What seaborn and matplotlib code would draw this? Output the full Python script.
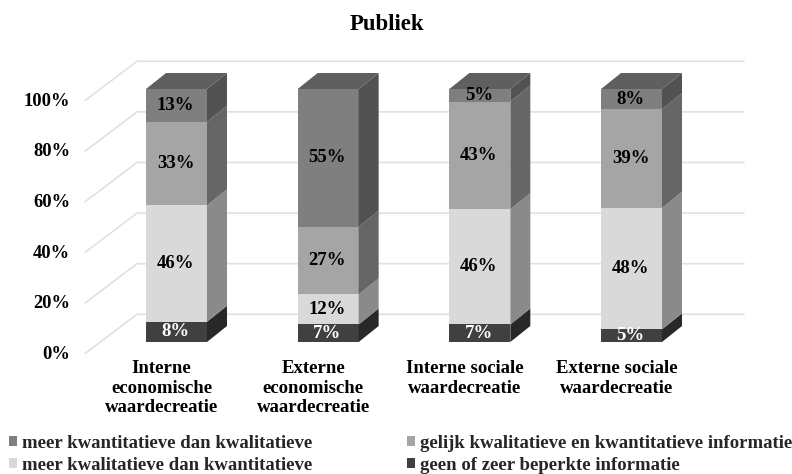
import matplotlib
matplotlib.use("Agg")
import matplotlib.pyplot as plt
from matplotlib.patches import Patch, Polygon
import numpy as np
import seaborn as sns

categories = ["Interne\neconomische\nwaardecreatie", "Externe\neconomische\nwaardecreatie",
              "Interne sociale\nwaardecreatie", "Externe sociale\nwaardecreatie"]
series_names = ["geen of zeer beperkte informatie", "meer kwalitatieve dan kwantitatieve",
                "gelijk kwalitatieve en kwantitatieve informatie", "meer kwantitatieve dan kwalitatieve"]
none_info = [8, 7, 7, 5]
more_qual = [46, 12, 46, 48]
equal_info = [33, 27, 43, 39]
more_quant = [13, 55, 5, 8]
y_ticks = [0, 20, 40, 60, 80, 100]

front_colors = ["#404040", "#d9d9d9", "#a5a5a5", "#7f7f7f"]
side_colors = ["#282828", "#8a8a8a", "#666666", "#525252"]
top_color = "#5f5f5f"
label_colors = ["white", "black", "black", "black"]

sns.set_theme(style="white")
plt.rcParams["font.family"] = ["Liberation Serif", "DejaVu Serif"]
plt.rcParams["font.weight"] = "bold"

W, H = 792, 474
fig = plt.figure(figsize=(W / 100, H / 100), dpi=100)
ax = fig.add_axes([0, 0, 1, 1])

# Axis scale: one category step and one percent in pixels
PX_X, PX_Y, X0, Y0 = 151.67, 2.53, 176.5, 342.0

values = np.array([none_info, more_qual, equal_info, more_quant], dtype=float)
shares = values / values.sum(axis=0) * 100
tops = shares.cumsum(axis=0)
bottoms = tops - shares

BAR_W = 0.402
DEPTH_X, DEPTH_Y = 20 / PX_X, 16 / PX_Y

# Stacked fronts: tallest cumulative bar first, so lower segments overlay it
for k in range(3, -1, -1):
    sns.barplot(x=categories, y=tops[k], color=front_colors[k], saturation=1,
                width=BAR_W, ax=ax, zorder=3, linewidth=0)

ax.set_xlim(-X0 / PX_X, (W - X0) / PX_X)
ax.set_ylim(-(H - Y0) / PX_Y, Y0 / PX_Y)
ax.set_axis_off()

# Extruded side and top faces of every bar
for i in range(len(categories)):
    xr = i + BAR_W / 2
    xl = i - BAR_W / 2
    for k in range(4):
        b, t = bottoms[k, i], tops[k, i]
        ax.add_patch(Polygon([(xr, b), (xr + DEPTH_X, b + DEPTH_Y), (xr + DEPTH_X, t + DEPTH_Y), (xr, t)],
                             closed=True, fc=side_colors[k], ec="none", zorder=3))
        ax.text(i - 1 / PX_X, (b + t) / 2, f"{int(values[k, i])}%", ha="center", va="center",
                fontsize=13.5, color=label_colors[k], zorder=5)
    ax.add_patch(Polygon([(xl, 100), (xl + DEPTH_X, 100 + DEPTH_Y), (xr + DEPTH_X, 100 + DEPTH_Y), (xr, 100)],
                         closed=True, fc=top_color, ec="none", zorder=3))

# Wall and back gridlines of the box
WALL_FRONT_X, WALL_BACK_X, GRID_END_X = (85 - X0) / PX_X, (137 - X0) / PX_X, (744 - X0) / PX_X
FRONT_OFFSET, BACK_OFFSET = -4.6, 10.95
for v in y_ticks:
    ax.plot([WALL_FRONT_X, WALL_BACK_X, GRID_END_X],
            [v + FRONT_OFFSET, v + BACK_OFFSET, v + BACK_OFFSET],
            color="#e1e1e1", lw=1.2, zorder=1, solid_joinstyle="miter")
    ax.text((70 - X0) / PX_X, v + FRONT_OFFSET - 0.3, f"{v}%", ha="right", va="center",
            fontsize=13.3, color="black")

# Category labels sit on the front plane of the box
for i, cat in enumerate(categories):
    ax.text(i - 15 / PX_X, -(360 - Y0) / PX_Y, cat, ha="center", va="top", fontsize=13.5,
            linespacing=1.2, color="black")

ax.text((387 - X0) / PX_X, (Y0 - 25) / PX_Y, "Publiek", ha="center", va="center", fontsize=16.4, color="black")

# Legend fills column by column
order = [3, 1, 2, 0]
handles = [Patch(fc=front_colors[k], ec="none") for k in order]
labels = [series_names[k] for k in order]
fig.legend(handles, labels, ncol=2, loc="lower left", bbox_to_anchor=(9 / W, 0), frameon=False,
           fontsize=13.5, handlelength=0.42, handleheight=0.42, handletextpad=0.3, columnspacing=5.02,
           labelspacing=0.27, borderpad=0, borderaxespad=0)

fig.savefig("out.png", dpi=100)
